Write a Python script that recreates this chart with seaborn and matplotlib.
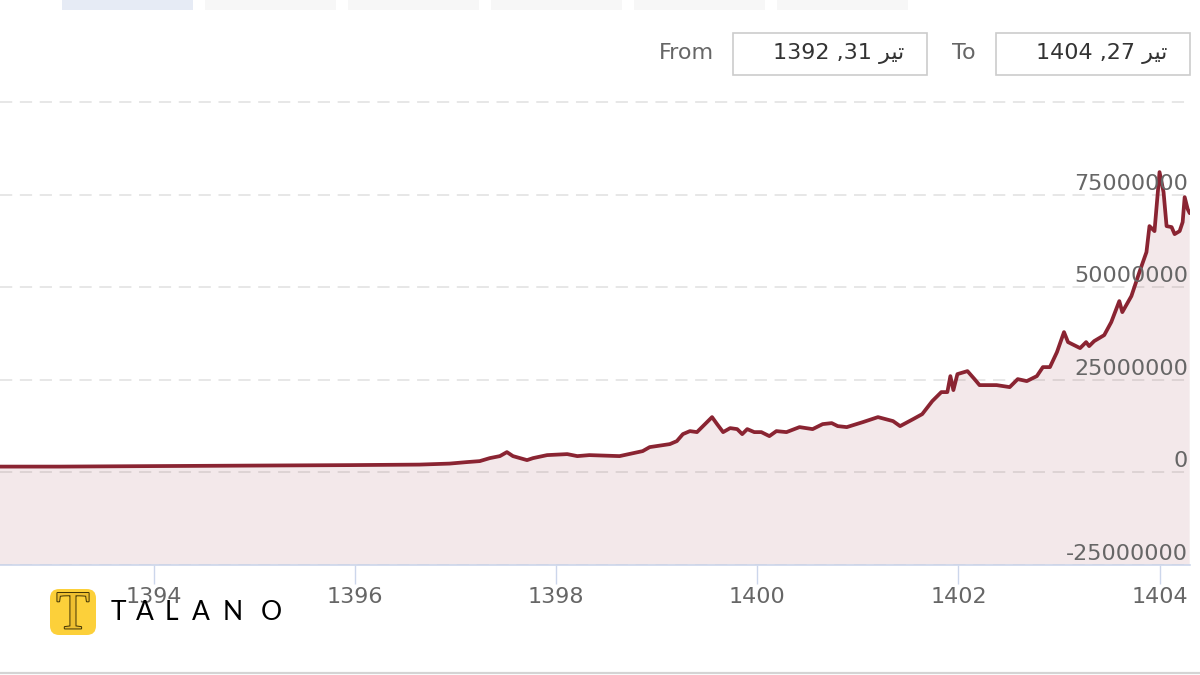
import matplotlib
matplotlib.use("Agg")
import matplotlib.pyplot as plt
import matplotlib.patheffects as pe
from matplotlib.patches import Rectangle, FancyBboxPatch
from matplotlib.lines import Line2D
from matplotlib.transforms import blended_transform_factory, offset_copy
import seaborn as sns
import pandas as pd

# ---------------- data ----------------
years = [1392.34, 1392.47, 1393.07, 1393.96, 1394.95, 1395.95, 1396.64, 1396.94,
         1397.11, 1397.24, 1397.34, 1397.44, 1397.51, 1397.57, 1397.71, 1397.77,
         1397.91, 1398.11, 1398.21, 1398.33, 1398.63, 1398.86, 1398.93, 1399.13,
         1399.20, 1399.26, 1399.33, 1399.40, 1399.55, 1399.60, 1399.66, 1399.73,
         1399.80, 1399.85, 1399.90, 1399.97, 1400.04, 1400.12, 1400.19, 1400.29,
         1400.42, 1400.55, 1400.65, 1400.74, 1400.80, 1400.89, 1401.05, 1401.20,
         1401.35, 1401.42, 1401.55, 1401.64, 1401.74, 1401.83, 1401.89, 1401.92,
         1401.95, 1401.99, 1402.09, 1402.16, 1402.21, 1402.38, 1402.51, 1402.59,
         1402.68, 1402.78, 1402.84, 1402.91, 1402.98, 1403.05, 1403.09, 1403.21,
         1403.27, 1403.30, 1403.35, 1403.45, 1403.52, 1403.60, 1403.63, 1403.72,
         1403.80, 1403.87, 1403.90, 1403.95, 1404.00, 1404.04, 1404.07, 1404.12,
         1404.15, 1404.20, 1404.23, 1404.25, 1404.28, 1404.30]
prices = [1500000, 1570000, 1570000, 1700000, 1840000, 1970000, 2110000, 2380000,
          2780000, 3050000, 3860000, 4400000, 5480000, 4400000, 3320000, 3860000,
          4670000, 4940000, 4400000, 4670000, 4400000, 5750000, 6830000, 7640000,
          8450000, 10340000, 11150000, 10880000, 14930000, 13040000, 10880000, 11960000,
          11690000, 10340000, 11690000, 10880000, 10880000, 9800000, 11150000, 10880000,
          12230000, 11690000, 13040000, 13310000, 12500000, 12230000, 13580000, 14930000,
          13850000, 12500000, 14390000, 15740000, 19250000, 21680000, 21680000, 26000000,
          22220000, 26540000, 27350000, 25190000, 23570000, 23570000, 23030000, 25190000,
          24650000, 26000000, 28430000, 28430000, 32480000, 37880000, 35180000, 33560000,
          35180000, 34100000, 35450000, 37070000, 40580000, 46250000, 43280000, 47600000,
          54080000, 59480000, 66500000, 65150000, 81080000, 75680000, 66500000, 66230000,
          64340000, 65150000, 67580000, 74330000, 71090000, 70000000]

x_ticks = [1394, 1396, 1398, 1400, 1402, 1404]
y_ticks = [-25000000, 0, 25000000, 50000000, 75000000, 100000000]
y_labels_shown = [-25000000, 0, 25000000, 50000000, 75000000]
y_top = 101900000
range_buttons = 6
label_from = "From"
label_to = "To"
date_from = ("1392", "31", "تیر")
date_to = ("1404", "27", "تیر")
brand = "TALANO"

LINE = "#8a2432"
GRID = "#e0e0e0"
AXIS = "#ccd6eb"
TXT = "#666666"

# --------------- helpers ---------------
W, H = 1200, 675


def fx(px):
    return px / W


def fy(py):
    return 1 - py / H


# contextual forms for the Persian letters used (initial, medial, final, isolated)
FORMS = {
    "\u062a": ("\ufe97", "\ufe98", "\ufe96", "\ufe95"),  # teh
    "\u06cc": ("\ufbfe", "\ufbff", "\ufbfd", "\ufbfc"),  # farsi yeh
    "\u0631": (None, None, "\ufeae", "\ufead"),          # reh (right-joining only)
}


def shape_fa(word):
    out = []
    n = len(word)
    for i, ch in enumerate(word):
        f = FORMS[ch]
        prev_joins = i > 0 and FORMS[word[i - 1]][0] is not None
        next_exists = i < n - 1 and f[0] is not None
        if prev_joins and next_exists:
            out.append(f[1])
        elif prev_joins:
            out.append(f[2])
        elif next_exists:
            out.append(f[0])
        else:
            out.append(f[3])
    return "".join(reversed(out))


def date_text(d):
    y, dd, m = d
    return f"{y} ,{dd} {shape_fa(m)}"


# --------------- figure ---------------
sns.set_style("white")
plt.rcParams["font.family"] = ["DejaVu Sans"]

fig = plt.figure(figsize=(12, 6.75), dpi=100)
ax = fig.add_axes([0, fy(565), fx(1190), (565 - 95) / H])

df = pd.DataFrame({"year": years, "price": prices})
ax.fill_between(df["year"], df["price"], y_ticks[0], color=LINE, alpha=0.1,
                lw=0, zorder=2)
sns.lineplot(data=df, x="year", y="price", ax=ax, color=LINE, lw=2.7,
             zorder=3, estimator=None, sort=False)

ax.set_xlim(1392.469, 1404.303)
ax.set_ylim(y_ticks[0], y_top)
ax.set_xlabel("")
ax.set_ylabel("")

ax.set_yticks(y_ticks)
ax.grid(axis="y", color=GRID, lw=1.1, ls=(0, (8, 5)), zorder=1)
ax.grid(axis="x", visible=False)
ax.tick_params(axis="y", left=False, labelleft=False)

ax.set_xticks(x_ticks)
ax.set_xticklabels([str(t) for t in x_ticks])
ax.tick_params(axis="x", direction="out", length=14, width=1, color=AXIS,
               labelsize=16, labelcolor=TXT, pad=1.5, bottom=True)

for s in ["top", "left", "right"]:
    ax.spines[s].set_visible(False)
ax.spines["bottom"].set_color(AXIS)
ax.spines["bottom"].set_linewidth(1.2)
ax.spines["bottom"].set_zorder(4)

tr = blended_transform_factory(ax.transAxes, ax.transData)
tr = offset_copy(tr, fig=fig, x=-2, y=5, units="dots")
for v in y_labels_shown:
    ax.text(1.0, v, f"{v:d}", transform=tr, ha="right", va="baseline",
            fontsize=16, color=TXT, zorder=5)

# --------------- header (range selector and inputs) ---------------
btn_left = [62, 205, 348, 491, 634, 777]
for i in range(range_buttons):
    col = "#e6ebf5" if i == 0 else "#f7f7f7"
    fig.add_artist(Rectangle((fx(btn_left[i]), fy(10)), fx(131), 10 / H,
                             transform=fig.transFigure, facecolor=col,
                             edgecolor="none"))

fig.text(fx(659), fy(53), label_from, ha="left", va="center", fontsize=16,
         color=TXT)
fig.text(fx(952), fy(53), label_to, ha="left", va="center", fontsize=16,
         color=TXT)
for (x0, x1, tc, d) in [(733, 927, 839, date_from), (996, 1190, 1102, date_to)]:
    fig.add_artist(Rectangle((fx(x0), fy(75)), fx(x1 - x0), 42 / H,
                             transform=fig.transFigure, facecolor="white",
                             edgecolor="#cccccc", lw=1.2))
    fig.text(fx(tc), fy(53), date_text(d), ha="center", va="center",
             fontsize=16, color="#333333")

# bottom navigator edge
fig.add_artist(Line2D([0, 1], [fy(672.5), fy(672.5)], transform=fig.transFigure,
                      color="#d4d4d4", lw=1.6))

# --------------- logo ---------------
lax = fig.add_axes([fx(50), fy(635), fx(46), 46 / H])
lax.set_xlim(0, 1)
lax.set_ylim(0, 1)
lax.axis("off")
lax.add_patch(FancyBboxPatch((0.0, 0.0), 1, 1,
                             boxstyle="round,pad=0,rounding_size=0.2",
                             facecolor="#fcd03a", edgecolor="none"))
lax.text(0.5, 0.43, "T", ha="center", va="center", fontsize=39,
         family="Liberation Serif", color="#eebf30",
         path_effects=[pe.Stroke(linewidth=1.4, foreground="#3f3204"),
                       pe.Normal()])

brand_x = [118, 145, 171, 201, 233, 271]
for ch, px in zip(brand, brand_x):
    fig.text(fx(px), fy(612), ch, ha="center", va="center", fontsize=19,
             family="Lato", color="black", zorder=6)

fig.savefig("out.png", dpi=100)
